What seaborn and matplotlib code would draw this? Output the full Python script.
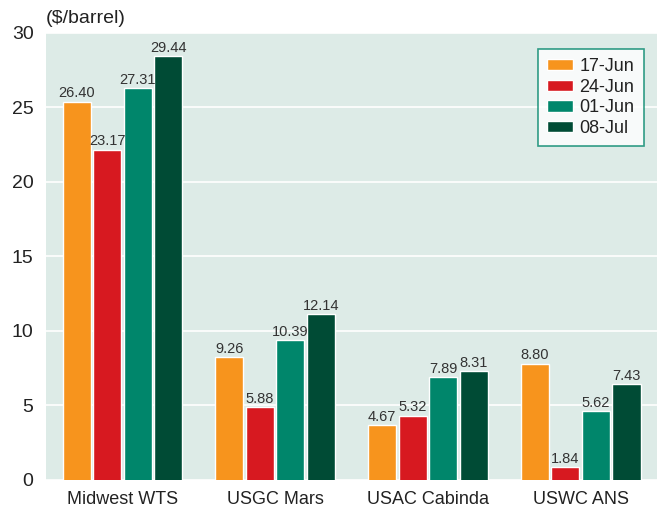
import pandas as pd
import numpy as np
import matplotlib
matplotlib.use("Agg")
import matplotlib.pyplot as plt
import seaborn as sns

# data
grades = ["Midwest WTS", "USGC Mars", "USAC Cabinda", "USWC ANS"]
dates = ["17-Jun", "24-Jun", "01-Jun", "08-Jul"]
v_17jun = [26.40, 9.26, 4.67, 8.80]
v_24jun = [23.17, 5.88, 5.32, 1.84]
v_01jun = [27.31, 10.39, 7.89, 5.62]
v_08jul = [29.44, 12.14, 8.31, 7.43]
tick_labels = ["0", "5", "10", "15", "20", "25", "30"]

colors = ["#f7941d", "#d71920", "#00866b", "#004b35"]

df = pd.DataFrame({"grade": grades * 4,
                   "date": np.repeat(dates, 4),
                   "value": v_17jun + v_24jun + v_01jun + v_08jul})

sns.set_style("white")
plt.rcParams['font.family'] = ['Liberation Sans', 'DejaVu Sans']

fig = plt.figure(figsize=(6.65, 5.17), dpi=100)
ax = fig.add_axes([0.0692, 0.0716, 0.9188, 0.8646])
ax.set_facecolor("#ddebe7")

sns.barplot(data=df, x="grade", y="value", hue="date", palette=colors,
            width=0.8, gap=0.08, saturation=1, ax=ax, errorbar=None)

for c in ax.containers:
    ax.bar_label(c, fmt="%.2f", fontsize=10.5, color="#333333", padding=1)

# the source chart's value axis sits one unit below its tick labels
ax.set_ylim(1, 31)
ax.set_yticks(np.arange(1, 32, 5))
ax.set_yticklabels(tick_labels)
ax.yaxis.grid(True, color="white", linewidth=1.2)
ax.set_axisbelow(True)
ax.tick_params(axis="both", length=0, colors="#222222")
ax.tick_params(axis="x", pad=8, labelsize=13)
ax.tick_params(axis="y", pad=9, labelsize=14)
ax.set_xlabel("")
ax.set_ylabel("")
for s in ax.spines.values():
    s.set_visible(False)

fig.text(0.0692, 0.964, "($/barrel)", fontsize=14, color="#222222",
         ha="left", va="center")

leg = ax.legend(title=None, loc="upper right", bbox_to_anchor=(0.978, 0.964),
                fontsize=13, frameon=True, fancybox=False,
                handlelength=1.45, handleheight=0.6, handletextpad=0.35,
                labelspacing=0.2, borderpad=0.5, borderaxespad=0)
leg.get_frame().set_edgecolor("#00866b")
leg.get_frame().set_linewidth(1.2)
for t in leg.get_texts():
    t.set_color("#222222")

fig.savefig("out.png", dpi=100)
